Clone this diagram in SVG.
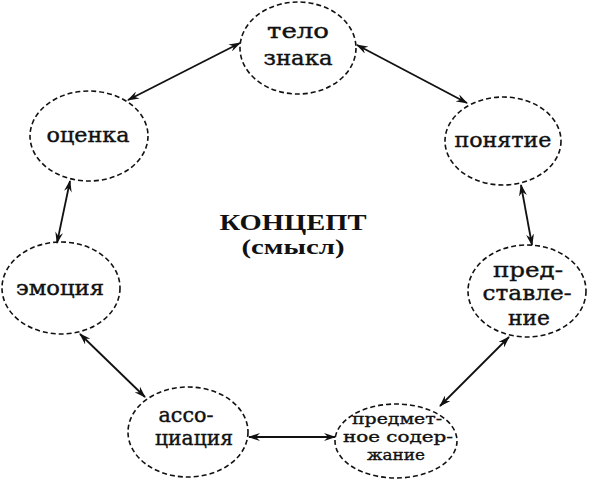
<svg xmlns="http://www.w3.org/2000/svg" width="591" height="485" viewBox="0 0 591 485">
<defs>
<style>
.node ellipse{fill:none;stroke:#111;stroke-width:1.6;stroke-dasharray:5,3}
.node text{font-family:"DejaVu Serif","Liberation Serif",serif;font-size:20px;fill:#111;stroke:#111;stroke-width:0.4;text-anchor:middle}
.node text.s{font-size:15px;stroke-width:0.35}
.title{font-family:"Liberation Serif","DejaVu Serif",serif;font-weight:bold;fill:#111;text-anchor:middle}
#connectors line{stroke:#111;stroke-width:1.8;marker-start:url(#ah);marker-end:url(#ah)}
</style>
<marker id="ah" viewBox="0 0 12 8" refX="11" refY="4" markerWidth="12" markerHeight="8" markerUnits="userSpaceOnUse" orient="auto-start-reverse">
<path d="M0,0 L12,4 L0,8 L4,4 z" fill="#111"/>
</marker>
</defs>
<rect width="591" height="485" fill="#fff"/>
<g id="connectors">
<line x1="128" y1="100" x2="240" y2="43"/>
<line x1="357" y1="45" x2="467" y2="103"/>
<line x1="521" y1="185" x2="532" y2="245"/>
<line x1="70" y1="181" x2="57" y2="243"/>
<line x1="80" y1="334" x2="145" y2="397"/>
<line x1="249" y1="437" x2="335" y2="437"/>
<line x1="440" y1="406" x2="509" y2="337"/>
</g>
<g id="telo" class="node">
<ellipse cx="298" cy="48" rx="58" ry="46"/>
<text x="298" y="38" textLength="62" lengthAdjust="spacingAndGlyphs">тело</text>
<text x="298" y="65" textLength="69" lengthAdjust="spacingAndGlyphs">знака</text>
</g>
<g id="ocenka" class="node">
<ellipse cx="89" cy="136" rx="59" ry="45"/>
<text x="88" y="142" textLength="83" lengthAdjust="spacingAndGlyphs">оценка</text>
</g>
<g id="ponyatie" class="node">
<ellipse cx="503" cy="141" rx="58" ry="44"/>
<text x="503" y="147" textLength="97" lengthAdjust="spacingAndGlyphs">понятие</text>
</g>
<g id="emociya" class="node">
<ellipse cx="61" cy="288" rx="59" ry="46"/>
<text x="60" y="295" textLength="88" lengthAdjust="spacingAndGlyphs">эмоция</text>
</g>
<g id="associaciya" class="node">
<ellipse cx="188" cy="432" rx="60" ry="45"/>
<text x="186" y="422" textLength="55" lengthAdjust="spacingAndGlyphs">ассо-</text>
<text x="194" y="445" textLength="78" lengthAdjust="spacingAndGlyphs">циация</text>
</g>
<g id="predmetnoe" class="node">
<ellipse cx="396" cy="441" rx="61" ry="37"/>
<text class="s" x="397" y="424" textLength="90" lengthAdjust="spacingAndGlyphs">предмет-</text>
<text class="s" x="398" y="442" textLength="110" lengthAdjust="spacingAndGlyphs">ное содер-</text>
<text class="s" x="396" y="460" textLength="58" lengthAdjust="spacingAndGlyphs">жание</text>
</g>
<g id="predstavlenie" class="node">
<ellipse cx="527" cy="291" rx="59" ry="46"/>
<text x="528" y="277" textLength="70" lengthAdjust="spacingAndGlyphs">пред-</text>
<text x="527" y="300" textLength="89" lengthAdjust="spacingAndGlyphs">ставле-</text>
<text x="529" y="325" textLength="42" lengthAdjust="spacingAndGlyphs">ние</text>
</g>
<g id="koncept">
<text class="title" x="293" y="230" font-size="23" textLength="147" lengthAdjust="spacingAndGlyphs">КОНЦЕПТ</text>
<text class="title" x="293" y="254" font-size="21" textLength="103" lengthAdjust="spacingAndGlyphs">(смысл)</text>
</g>
</svg>
